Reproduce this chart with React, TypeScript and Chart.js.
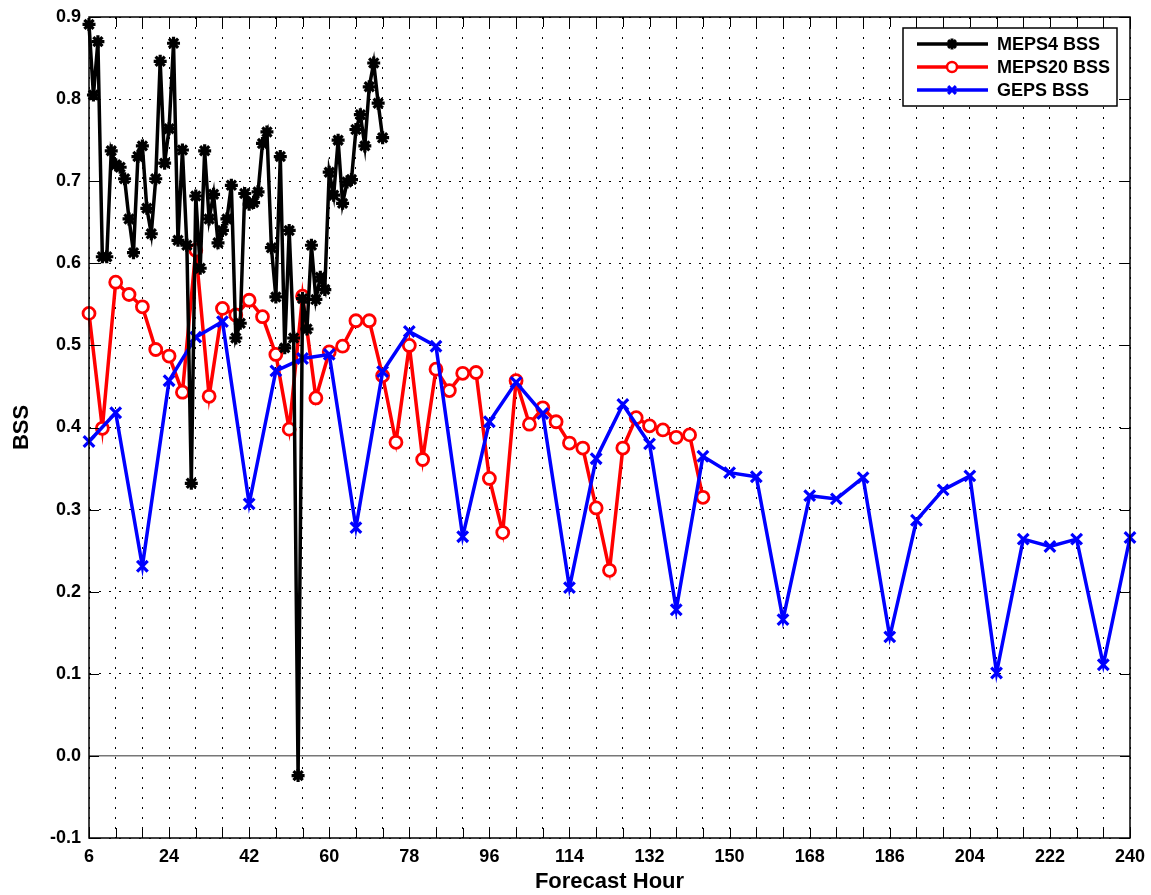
import React, { useEffect, useRef } from "react";
import { Chart, registerables } from "chart.js";

Chart.register(...registerables);

// Forecast hours and Brier skill scores for each ensemble system
const meps4Hours = [
  6, 7, 8, 9, 10, 11, 12, 13, 14, 15, 16, 17, 18, 19, 20, 21, 22, 23, 24, 25,
  26, 27, 28, 29, 30, 31, 32, 33, 34, 35, 36, 37, 38, 39, 40, 41, 42, 43, 44,
  45, 46, 47, 48, 49, 50, 51, 52, 53, 54, 55, 56, 57, 58, 59, 60, 61, 62, 63,
  64, 65, 66, 67, 68, 69, 70, 71, 72,
];
const meps4Bss = [
  0.891, 0.805, 0.87, 0.608, 0.608, 0.737, 0.72, 0.717, 0.703, 0.654, 0.613,
  0.73, 0.743, 0.667, 0.636, 0.703, 0.846, 0.722, 0.764, 0.868, 0.628, 0.738,
  0.622, 0.332, 0.682, 0.594, 0.737, 0.654, 0.684, 0.625, 0.64, 0.654, 0.695,
  0.509, 0.527, 0.685, 0.672, 0.674, 0.687, 0.746, 0.76, 0.619, 0.559, 0.73,
  0.497, 0.64, 0.509, -0.024, 0.557, 0.52, 0.622, 0.556, 0.583, 0.568, 0.711,
  0.683, 0.75, 0.673, 0.699, 0.702, 0.763, 0.781, 0.743, 0.815, 0.844, 0.795,
  0.753,
];

const meps20Hours = [
  6, 9, 12, 15, 18, 21, 24, 27, 30, 33, 36, 39, 42, 45, 48, 51, 54, 57, 60, 63,
  66, 69, 72, 75, 78, 81, 84, 87, 90, 93, 96, 99, 102, 105, 108, 111, 114, 117,
  120, 123, 126, 129, 132, 135, 138, 141, 144,
];
const meps20Bss = [
  0.539, 0.399, 0.577, 0.562, 0.547, 0.495, 0.487, 0.443, 0.616, 0.438, 0.545,
  0.537, 0.555, 0.535, 0.489, 0.398, 0.56, 0.436, 0.492, 0.499, 0.53, 0.53,
  0.463, 0.382, 0.5, 0.361, 0.471, 0.445, 0.466, 0.467, 0.338, 0.272, 0.457,
  0.404, 0.424, 0.407, 0.381, 0.375, 0.302, 0.226, 0.375, 0.412, 0.402, 0.397,
  0.388, 0.391, 0.315,
];

const gepsHours = [
  6, 12, 18, 24, 30, 36, 42, 48, 54, 60, 66, 72, 78, 84, 90, 96, 102, 108, 114,
  120, 126, 132, 138, 144, 150, 156, 162, 168, 174, 180, 186, 192, 198, 204,
  210, 216, 222, 228, 234, 240,
];
const gepsBss = [
  0.383, 0.418, 0.231, 0.457, 0.51, 0.529, 0.307, 0.469, 0.484, 0.489, 0.278,
  0.468, 0.517, 0.499, 0.267, 0.407, 0.455, 0.417, 0.205, 0.362, 0.428, 0.38,
  0.178, 0.365, 0.345, 0.34, 0.166, 0.317, 0.313, 0.339, 0.145, 0.287, 0.324,
  0.341, 0.101, 0.264, 0.255, 0.264, 0.111, 0.266,
];

// Labelled hours on the x axis (ticks and grid lines fall every 6 h)
const hourLabels = [6, 24, 42, 60, 78, 96, 114, 132, 150, 168, 186, 204, 222, 240];

const FONT = "'Liberation Sans', Arial, Helvetica, sans-serif";

type Pt = { x: number; y: number };
const toPoints = (hours: number[], vals: number[]): Pt[] =>
  hours.map((h, i) => ({ x: h, y: vals[i] }));

function drawMarker(
  ctx: CanvasRenderingContext2D,
  style: string,
  cx: number,
  cy: number,
  r: number,
  color: string
) {
  ctx.save();
  ctx.strokeStyle = color;
  ctx.fillStyle = color;
  ctx.lineWidth = 3;
  ctx.beginPath();
  if (style === "circle") {
    ctx.lineWidth = 2.5;
    ctx.arc(cx, cy, r, 0, Math.PI * 2);
    ctx.fillStyle = "#fff";
    ctx.fill();
    ctx.stroke();
  } else if (style === "crossRot") {
    const d = r * Math.SQRT1_2;
    ctx.moveTo(cx - d, cy - d);
    ctx.lineTo(cx + d, cy + d);
    ctx.moveTo(cx - d, cy + d);
    ctx.lineTo(cx + d, cy - d);
    ctx.stroke();
  } else {
    const d = r * Math.SQRT1_2;
    ctx.moveTo(cx - r, cy);
    ctx.lineTo(cx + r, cy);
    ctx.moveTo(cx, cy - r);
    ctx.lineTo(cx, cy + r);
    ctx.moveTo(cx - d, cy - d);
    ctx.lineTo(cx + d, cy + d);
    ctx.moveTo(cx - d, cy + d);
    ctx.lineTo(cx + d, cy - d);
    ctx.stroke();
  }
  ctx.restore();
}

// Axes box with inward tick marks on all four sides, plus the boxed legend
const framePlugin = {
  id: "bssFrame",
  afterDraw(chart: any) {
    const { ctx, chartArea: a, scales } = chart;
    const xs = scales.x;
    const ys = scales.y;
    const len = 10;
    ctx.save();
    ctx.strokeStyle = "#000";
    ctx.lineWidth = 1;
    ctx.beginPath();
    xs.ticks.forEach((t: any) => {
      const px = Math.round(xs.getPixelForValue(t.value)) + 0.5;
      ctx.moveTo(px, a.bottom);
      ctx.lineTo(px, a.bottom - len);
      ctx.moveTo(px, a.top);
      ctx.lineTo(px, a.top + len);
    });
    ys.ticks.forEach((t: any) => {
      const py = Math.round(ys.getPixelForValue(t.value)) + 0.5;
      ctx.moveTo(a.left, py);
      ctx.lineTo(a.left + len, py);
      ctx.moveTo(a.right, py);
      ctx.lineTo(a.right - len, py);
    });
    ctx.stroke();
    ctx.lineWidth = 1.5;
    ctx.strokeRect(a.left, a.top, a.right - a.left, a.bottom - a.top);

    // legend
    const lx = 903;
    const ly = 28;
    const lw = 214;
    const lh = 78;
    ctx.fillStyle = "#fff";
    ctx.fillRect(lx, ly, lw, lh);
    ctx.lineWidth = 1.5;
    ctx.strokeStyle = "#000";
    ctx.strokeRect(lx, ly, lw, lh);
    ctx.font = `bold 18px ${FONT}`;
    ctx.textBaseline = "middle";
    ctx.textAlign = "left";
    chart.data.datasets.forEach((ds: any, i: number) => {
      const cy = ly + 16 + i * 23;
      ctx.save();
      ctx.strokeStyle = ds.borderColor;
      ctx.lineWidth = 3.5;
      ctx.beginPath();
      ctx.moveTo(lx + 14, cy);
      ctx.lineTo(lx + 85, cy);
      ctx.stroke();
      ctx.restore();
      drawMarker(ctx, ds.pointStyle, lx + 49, cy, ds.pointStyle === "circle" ? 5 : 5.5, ds.borderColor);
      ctx.fillStyle = "#000";
      ctx.fillText(ds.label, lx + 94, cy + 1);
    });
    ctx.restore();
  },
};

export default function App() {
  const canvasRef = useRef<HTMLCanvasElement | null>(null);

  useEffect(() => {
    if (!canvasRef.current) return;
    Chart.defaults.font.family = FONT;
    Chart.defaults.color = "#000";

    const chart = new Chart(canvasRef.current, {
      type: "line",
      data: {
        datasets: [
          {
            label: "MEPS4 BSS",
            data: toPoints(meps4Hours, meps4Bss),
            borderColor: "#000000",
            backgroundColor: "#000000",
            borderWidth: 3.5,
            pointStyle: "star",
            pointRadius: 6.5,
            pointBorderWidth: 3.2,
            pointBorderColor: "#000000",
            pointBackgroundColor: "#000000",
            tension: 0,
            clip: false,
            order: 0,
          },
          {
            label: "MEPS20 BSS",
            data: toPoints(meps20Hours, meps20Bss),
            borderColor: "#ff0000",
            backgroundColor: "#ffffff",
            borderWidth: 3.5,
            pointStyle: "circle",
            pointRadius: 6,
            pointBorderWidth: 2.8,
            pointBorderColor: "#ff0000",
            pointBackgroundColor: "#ffffff",
            tension: 0,
            clip: false,
            order: 2,
          },
          {
            label: "GEPS BSS",
            data: toPoints(gepsHours, gepsBss),
            borderColor: "#0000ff",
            backgroundColor: "#0000ff",
            borderWidth: 3.5,
            pointStyle: "crossRot",
            pointRadius: 7.5,
            pointBorderWidth: 3.2,
            pointBorderColor: "#0000ff",
            pointBackgroundColor: "#0000ff",
            tension: 0,
            clip: false,
            order: 1,
          },
        ] as any,
      },
      options: {
        animation: false,
        responsive: false,
        events: [],
        layout: { padding: { top: 17, right: 21, bottom: 0, left: 0 } },
        plugins: {
          legend: { display: false },
          tooltip: { enabled: false },
        },
        scales: {
          x: {
            type: "linear",
            min: 6,
            max: 240,
            afterFit: (s: any) => {
              s.height = 57;
              s.paddingLeft = 0;
              s.paddingRight = 0;
            },
            ticks: {
              stepSize: 6,
              autoSkip: false,
              maxRotation: 0,
              padding: 8,
              font: { size: 18, weight: "bold" },
              color: "#000",
              callback: (v: any) => (hourLabels.includes(Number(v)) ? String(v) : ""),
            },
            grid: {
              drawTicks: false,
              color: "#000",
              lineWidth: 1,
            },
            border: { display: false, dash: [2, 8] },
            title: {
              display: true,
              text: "Forecast Hour",
              font: { size: 22, weight: "bold" },
              color: "#000",
              padding: { top: 0, bottom: 0 },
            },
          },
          y: {
            type: "linear",
            min: -0.1,
            max: 0.9,
            afterFit: (s: any) => {
              s.width = 89;
              s.paddingTop = 0;
              s.paddingBottom = 0;
            },
            ticks: {
              stepSize: 0.1,
              padding: 8,
              font: { size: 18, weight: "bold" },
              color: "#000",
              callback: (v: any) => Number(v).toFixed(1),
            },
            grid: {
              drawTicks: false,
              color: (c: any) => (c.tick && Math.abs(c.tick.value) < 1e-9 ? "#777" : "#000"),
              lineWidth: (c: any) => (c.tick && Math.abs(c.tick.value) < 1e-9 ? 1.5 : 1),
            },
            border: {
              display: false,
              dash: (c: any) => (c.tick && Math.abs(c.tick.value) < 1e-9 ? [] : [2, 8]),
            },
            title: {
              display: true,
              text: "BSS",
              font: { size: 22, weight: "bold" },
              color: "#000",
              padding: { top: 9, bottom: 0 },
            },
          },
        },
      } as any,
      plugins: [framePlugin],
    });

    return () => chart.destroy();
  }, []);

  return (
    <div
      style={{
        position: "absolute",
        left: 0,
        top: 0,
        width: 1151,
        height: 895,
        background: "#fff",
      }}
    >
      <canvas ref={canvasRef} width={1151} height={895} style={{ display: "block" }} />
    </div>
  );
}
